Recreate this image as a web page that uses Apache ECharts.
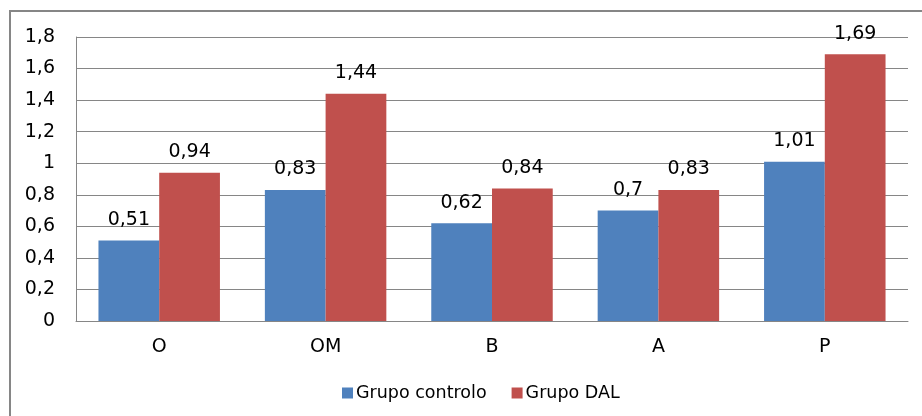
<!DOCTYPE html>
<html><head><meta charset="utf-8">
<script src="https://cdn.jsdelivr.net/npm/echarts@6/dist/echarts.min.js"></script>
<style>html,body{margin:0;padding:0;background:#fff}#c{width:922px;height:416px}</style>
</head><body><div id="c"></div>
<script>
var categories = ['O', 'OM', 'B', 'A', 'P'];
var controlo = [0.51, 0.83, 0.62, 0.7, 1.01];
var dal = [0.94, 1.44, 0.84, 0.83, 1.69];
var seriesNames = ['Grupo controlo', 'Grupo DAL'];
function fmt(v){ return String(v).replace('.', ','); }
var font = 'DejaVu Sans';
var chart = echarts.init(document.getElementById('c'), null, {renderer:'canvas'});
chart.setOption({
  animation:false,
  textStyle:{fontFamily:font},
  graphic:[{type:'rect', shape:{x:10, y:11, width:940, height:440}, style:{fill:'none', stroke:'#868686', lineWidth:2}, silent:true}],
  grid:{left:76, top:37, right:14, bottom:95, containLabel:false},
  legend:{bottom:9, left:337, itemWidth:11, itemHeight:11, itemGap:25, icon:'rect',
    textStyle:{fontFamily:font, fontSize:17.5, color:'#000', padding:[0,0,0,-2]}, data:seriesNames},
  xAxis:{type:'category', data:categories,
    axisLine:{show:true, lineStyle:{color:'#868686', width:1}},
    axisTick:{show:false},
    axisLabel:{fontFamily:font, fontSize:19, color:'#000', margin:17}},
  yAxis:{type:'value', min:0, max:1.8, interval:0.2,
    axisLine:{show:true, lineStyle:{color:'#868686', width:1}},
    axisTick:{show:false},
    splitLine:{lineStyle:{color:'#868686', width:1}},
    axisLabel:{fontFamily:font, fontSize:19, color:'#000', margin:21,
      formatter:function(v){ return fmt(Math.round(v*10)/10); }}},
  series:[
    {name:seriesNames[0], type:'bar', data:controlo, barGap:'0%', barCategoryGap:'27%',
     itemStyle:{color:'#4F81BD'},
     label:{show:true, position:'top', distance:11, fontFamily:font, fontSize:19, color:'#000', formatter:function(p){return fmt(p.value);}}},
    {name:seriesNames[1], type:'bar', data:dal, barGap:'0%', barCategoryGap:'27%',
     itemStyle:{color:'#C0504D'},
     label:{show:true, position:'top', distance:11, fontFamily:font, fontSize:19, color:'#000', formatter:function(p){return fmt(p.value);}}}
  ]
});
</script></body></html>
